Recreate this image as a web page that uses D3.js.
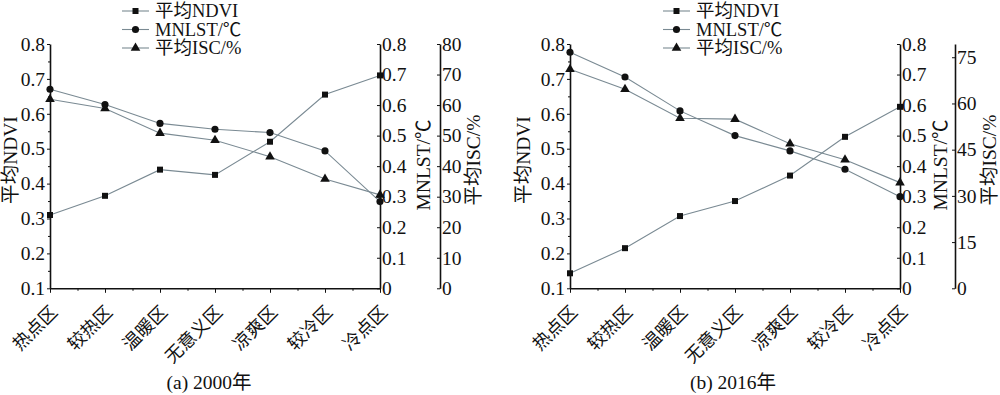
<!DOCTYPE html>
<html>
<head>
<meta charset="utf-8">
<script src="https://cdn.jsdelivr.net/npm/d3@7"></script>
<style>
  body { margin: 0; background: #fff; }
  svg text { font-family: "Liberation Serif", "Noto Sans CJK SC", serif; fill: #111; }
  .axis path, .axis line { stroke: #111; }
  .axis path { stroke-width: 1.6; }
</style>
</head>
<body>
<div id="chart"></div>
<script>
const categories = ["热点区", "较热区", "温暖区", "无意义区", "凉爽区", "较冷区", "冷点区"];

const ndvi2000 = [0.31, 0.365, 0.44, 0.425, 0.52, 0.655, 0.71];
const mnlst2000 = [0.652, 0.602, 0.54, 0.521, 0.51, 0.45, 0.284];
const isc2000 = [61.9, 58.9, 50.8, 48.5, 43.1, 35.8, 30.6];

const ndvi2016 = [0.143, 0.215, 0.307, 0.35, 0.423, 0.534, 0.62];
const mnlst2016 = [0.773, 0.692, 0.581, 0.5, 0.45, 0.39, 0.3];
const isc2016 = [71.1, 64.6, 55.2, 54.9, 46.9, 41.7, 34.3];

const ndviTicks = [0.1, 0.2, 0.3, 0.4, 0.5, 0.6, 0.7, 0.8];
const mnlstTicks = [0, 0.1, 0.2, 0.3, 0.4, 0.5, 0.6, 0.7, 0.8];
const iscTicks2000 = [0, 10, 20, 30, 40, 50, 60, 70, 80];
const iscTicks2016 = [0, 15, 30, 45, 60, 75];

const legendNames = ["平均NDVI", "MNLST/℃", "平均ISC/%"];

const lineColor = "#7a8a93";
const plotTop = 44, plotBottom = 288.3;
const tickFont = 19.5;

const svg = d3.select("#chart")
  .append("svg")
  .attr("width", 1000)
  .attr("height", 395);

const symbols = [d3.symbolSquare, d3.symbolCircle, d3.symbolTriangle];
const symbolSizes = [36, 40, 40];

function drawPanel(p) {
  const g = svg.append("g");

  const x = d3.scalePoint().domain(categories).range([p.left, p.right]);
  const yN = d3.scaleLinear().domain([0.1, 0.8]).range([plotBottom, plotTop]);
  const yM = d3.scaleLinear().domain([0, 0.8]).range([plotBottom, plotTop]);
  const yI = d3.scaleLinear().domain(p.iscDomain).range([plotBottom, plotTop]);

  const series = [
    { values: p.ndvi, y: yN },
    { values: p.mnlst, y: yM },
    { values: p.isc, y: yI }
  ];

  const line = (s) => d3.line()
    .x((d, i) => x(categories[i]))
    .y(d => s.y(d))(s.values);

  series.forEach((s, k) => {
    g.append("path")
      .attr("d", line(s))
      .attr("fill", "none")
      .attr("stroke", lineColor)
      .attr("stroke-width", 1.1);

    g.selectAll(null)
      .data(s.values)
      .join("path")
      .attr("transform", (d, i) => `translate(${x(categories[i])},${s.y(d)})`)
      .attr("d", d3.symbol().type(symbols[k]).size(symbolSizes[k]))
      .attr("fill", "#111");
  });

  // minor ticks on x axis
  const step = x.step();
  const mids = categories.slice(1).map(c => x(c) - step / 2);
  g.append("g")
    .attr("class", "axis")
    .attr("transform", `translate(0,${plotBottom})`)
    .call(d3.axisBottom(d3.scaleLinear().domain([p.left, p.right]).range([p.left, p.right]))
      .tickValues(mids).tickSize(2.5).tickFormat(""))
    .select(".domain").remove();

  g.append("g")
    .attr("class", "axis")
    .attr("transform", `translate(0,${plotBottom})`)
    .call(d3.axisBottom(x).tickSize(4.5).tickSizeOuter(0).tickFormat(""));

  g.selectAll(null)
    .data(categories)
    .join("text")
    .attr("transform", d => `translate(${x(d) + 8.5},${plotBottom + 25}) rotate(-45)`)
    .attr("text-anchor", "end")
    .attr("font-size", 18)
    .text(d => d);

  // left NDVI axis
  const leftAxis = g.append("g")
    .attr("class", "axis")
    .attr("transform", `translate(${p.left},0)`)
    .call(d3.axisLeft(yN).tickValues(ndviTicks).tickSize(3).tickSizeOuter(0).tickPadding(2)
      .tickFormat(d3.format(".1f")));
  leftAxis.selectAll("text").attr("font-size", tickFont);

  g.append("g")
    .attr("class", "axis")
    .attr("transform", `translate(${p.left},0)`)
    .call(d3.axisLeft(yN).tickValues(ndviTicks.slice(1).map(v => v - 0.05)).tickSize(2).tickFormat(""))
    .select(".domain").remove();

  // MNLST axis
  const midAxis = g.append("g")
    .attr("class", "axis")
    .attr("transform", `translate(${p.right},0)`)
    .call(d3.axisRight(yM).tickValues(mnlstTicks).tickSizeInner(-3).tickSizeOuter(0).tickPadding(2)
      .tickFormat(d => d === 0 ? "0" : d3.format(".1f")(d)));
  midAxis.selectAll("text").attr("font-size", tickFont);

  // ISC axis
  const iscAxis = g.append("g")
    .attr("class", "axis")
    .attr("transform", `translate(${p.iscX},0)`)
    .call(d3.axisRight(yI).tickValues(p.iscTicks).tickSizeInner(-3).tickSizeOuter(0).tickPadding(2));
  iscAxis.selectAll("text").attr("font-size", tickFont);

  // axis titles
  const titles = [
    { text: "平均NDVI", x: p.titleX[0], y: 160 },
    { text: "MNLST/℃", x: p.titleX[1], y: 165 },
    { text: "平均ISC/%", x: p.titleX[2], y: 160 }
  ];
  g.selectAll(null)
    .data(titles)
    .join("text")
    .attr("transform", d => `translate(${d.x},${d.y}) rotate(-90)`)
    .attr("text-anchor", "middle")
    .attr("dy", "0.35em")
    .attr("font-size", 19.5)
    .text(d => d.text);

  // legend
  const legend = g.append("g");
  legendNames.forEach((name, k) => {
    const ly = 11 + k * 18.5;
    legend.append("line")
      .attr("x1", p.legendX).attr("x2", p.legendX + 27)
      .attr("y1", ly).attr("y2", ly)
      .attr("stroke", lineColor).attr("stroke-width", 1.1);
    legend.append("path")
      .attr("transform", `translate(${p.legendX + 13.5},${ly})`)
      .attr("d", d3.symbol().type(symbols[k]).size(symbolSizes[k]))
      .attr("fill", "#111");
    legend.append("text")
      .attr("x", p.legendX + 33)
      .attr("y", ly)
      .attr("dy", "0.35em")
      .attr("font-size", 18.5)
      .text(name);
  });

  g.append("text")
    .attr("x", p.captionX)
    .attr("y", 389)
    .attr("text-anchor", "middle")
    .attr("font-size", 19.5)
    .text(p.caption);
}

drawPanel({
  left: 50, right: 380, iscX: 440,
  iscDomain: [0, 80], iscTicks: iscTicks2000,
  ndvi: ndvi2000, mnlst: mnlst2000, isc: isc2000,
  titleX: [10, 423, 473],
  legendX: 122,
  captionX: 209,
  caption: "(a) 2000年"
});

drawPanel({
  left: 570, right: 900, iscX: 955,
  iscDomain: [0, 79.3], iscTicks: iscTicks2016,
  ndvi: ndvi2016, mnlst: mnlst2016, isc: isc2016,
  titleX: [523, 940, 989],
  legendX: 663,
  captionX: 733,
  caption: "(b) 2016年"
});
</script>
</body>
</html>
